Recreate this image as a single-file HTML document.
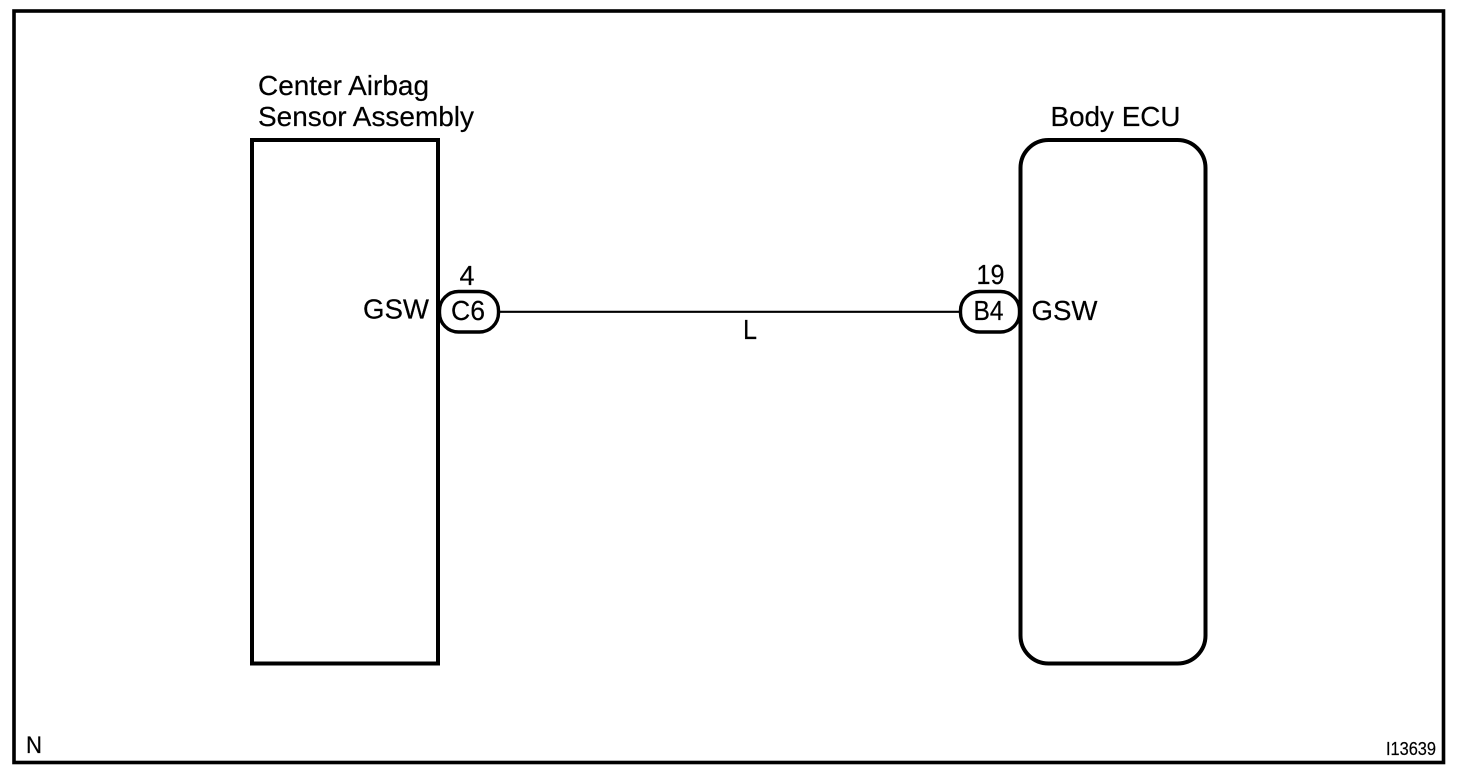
<!DOCTYPE html>
<html>
<head>
<meta charset="utf-8">
<style>
html,body{margin:0;padding:0;background:#fff;width:1472px;height:784px;overflow:hidden}
svg{display:block}
text{font-family:"Liberation Sans",Arial,sans-serif;fill:#000;font-size:28px;stroke:#000;stroke-width:0.2px}
</style>
</head>
<body>
<svg width="1472" height="784" viewBox="0 0 1472 784" xmlns="http://www.w3.org/2000/svg">
<rect x="0" y="0" width="1472" height="784" fill="#fff"/>
<rect x="14" y="11" width="1429.5" height="751.5" fill="none" stroke="#000" stroke-width="3.6"/>
<rect x="252" y="140" width="186" height="523.5" fill="none" stroke="#000" stroke-width="4"/>
<rect x="1020.5" y="140" width="185" height="523.5" rx="28" ry="28" fill="none" stroke="#000" stroke-width="4"/>
<line x1="499" y1="311.8" x2="961" y2="311.8" stroke="#000" stroke-width="2.2"/>
<rect x="439.5" y="291.5" width="59" height="40.5" rx="19" ry="19" fill="#fff" stroke="#000" stroke-width="3.4"/>
<rect x="960.5" y="291.5" width="59" height="40.5" rx="19" ry="19" fill="#fff" stroke="#000" stroke-width="3.4"/>
<line x1="438" y1="280" x2="438" y2="345" stroke="#000" stroke-width="4"/>
<line x1="1020.5" y1="280" x2="1020.5" y2="345" stroke="#000" stroke-width="4"/>
<text x="258" y="95" textLength="171" lengthAdjust="spacingAndGlyphs">Center Airbag</text>
<text x="258" y="126" textLength="216" lengthAdjust="spacingAndGlyphs">Sensor Assembly</text>
<text x="1050.5" y="126" textLength="130" lengthAdjust="spacingAndGlyphs">Body ECU</text>
<text x="363" y="318.5" textLength="66" lengthAdjust="spacingAndGlyphs">GSW</text>
<text x="1031.5" y="320" textLength="66" lengthAdjust="spacingAndGlyphs">GSW</text>
<text x="459.5" y="285" textLength="15" lengthAdjust="spacingAndGlyphs">4</text>
<text x="976.5" y="284" textLength="28" lengthAdjust="spacingAndGlyphs">19</text>
<text x="451" y="320" textLength="34" lengthAdjust="spacingAndGlyphs">C6</text>
<text x="973.5" y="320" textLength="30" lengthAdjust="spacingAndGlyphs">B4</text>
<text x="743" y="339" textLength="14" lengthAdjust="spacingAndGlyphs">L</text>
<text x="26" y="753" style="font-size:24px" textLength="16" lengthAdjust="spacingAndGlyphs">N</text>
<text x="1386" y="755" style="font-size:18px" textLength="50" lengthAdjust="spacingAndGlyphs">I13639</text>
</svg>
</body>
</html>
